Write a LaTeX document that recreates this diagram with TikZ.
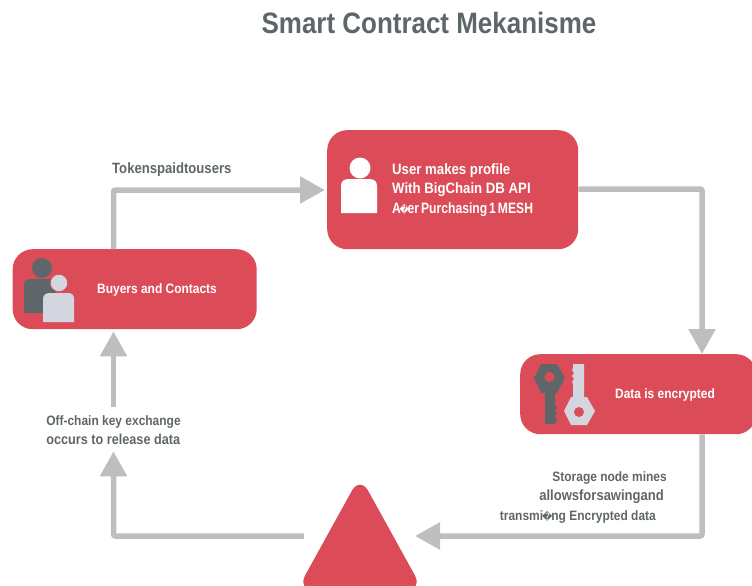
\documentclass[tikz,border=0pt]{standalone}
\usepackage{fontspec}
\setmainfont{Liberation Sans}
\newfontfamily\condbold[FakeStretch=0.88]{Liberation Sans Bold}
\newfontfamily\repl{DejaVu Sans}
\usetikzlibrary{arrows.meta,calc}
\definecolor{boxred}{HTML}{DC4C58}
\definecolor{txtgray}{HTML}{5F666A}
\definecolor{arrowgray}{HTML}{BDBEC0}
\definecolor{iconlight}{HTML}{D3D6DE}
\newcommand{\rp}{{\repl\fontsize{10}{10}\selectfont\char"FFFD}}
\tikzset{
  redbox/.style={fill=boxred,draw=none,rounded corners=20pt,inner sep=0pt,minimum height=80pt},
  boxtext/.style={text=white,font=\condbold\fontsize{13.6}{19.5}\selectfont,inner sep=0pt,align=left},
  usertextstyle/.style={boxtext,font=\condbold\fontsize{15}{19.5}\selectfont},
  graytext/.style={text=txtgray,font=\condbold\fontsize{13.6}{19.3}\selectfont,inner sep=0pt},
  flow/.style={draw=arrowgray,line width=5.5pt,rounded corners=2pt},
  flowtip/.style={flow,-{Triangle[length=25pt,width=26pt]}},
  dark/.style={fill=txtgray,draw=none},
  light/.style={fill=iconlight,draw=none},
  white icon/.style={fill=white,draw=none}
}
\begin{document}
\begin{tikzpicture}[x=1pt,y=-1pt]
\useasboundingbox (0,0) rectangle (752,586);
\clip (0,0) rectangle (752,586);
% boxes
\node[redbox,minimum width=251pt,minimum height=119pt,anchor=north west] (user) at (327,130) {};
\node[redbox,minimum width=244pt,anchor=north west] (buyers) at (12.5,249) {};
\node[redbox,minimum width=236pt,anchor=north west] (data) at (520,354) {};
% triangle
\coordinate (triA) at (360,476);
\coordinate (triB) at (423,590);
\coordinate (triC) at (297,590);
\fill[boxred,rounded corners=17pt] (triA) -- (triB) -- (triC) -- cycle;
\coordinate (triRight) at (415,536);
\coordinate (triLeft) at (304,536);
% texts
\node[text=txtgray,font=\condbold\fontsize{29.5}{32}\selectfont,inner sep=0pt] (title) at (429,23) {Smart Contract Mekanisme};
\node[graytext,font=\condbold\fontsize{14.9}{19}\selectfont,anchor=west] (tokens) at (112,170) {Tokenspaidtousers};
\node[usertextstyle,anchor=west] (usertext) at (392,190) {User makes profile\\With BigChain DB API\\\scalebox{0.92}[1]{A\hspace{-1.5pt}\rp\hspace{-1.5pt}er\hspace{-1.5pt} Purchasing\hspace{-1.5pt} 1\hspace{-1.5pt} MESH}};
\node[boxtext,anchor=center] (buyerstext) at (157,289.5) {Buyers and Contacts};
\node[boxtext,anchor=center] (datatext) at (665,394.5) {Data is encrypted};
\node[graytext,align=left,anchor=center] (off) at (113.5,430) {Off-chain key exchange\\{\fontsize{14.4}{19.3}\selectfont occurs to release data}};
\node[graytext,align=right,anchor=north east] (storage) at (667,471.5) {Storage node mines\\{\fontsize{14.8}{19.3}\selectfont allowsforsawingand}\kern3pt\\transmi\hspace{-1pt}\rp\hspace{-1pt}ng Encrypted data\kern11pt};
% connectors
\draw[flowtip] (buyers.north -| off.north) -- (off.north |- 0,190) -- ([xshift=-2pt]user.west |- 0,190);
\draw[flowtip] (user.east |- 0,189) -- (702,189) -- (data.north -| 702,0);
\draw[flowtip] (data.south -| 702,0) -- (702,536) -- (triRight);
\draw[flowtip] (triLeft) -- (off.south |- triLeft) -- ([yshift=-6.5pt]off.south);
\draw[flowtip] ([yshift=8pt]off.north) -- ([yshift=-2pt]buyers.south -| off.north);
% person icon
\fill[white icon] (360,168) circle (10.5);
\fill[white icon] (341,213) -- (341,186) .. controls (341,181) and (344,179) .. (349,179) -- (369,179) .. controls (375,179) and (377,182) .. (377,186) -- (377,213) -- cycle;
% buyers icon
\fill[dark] (42,268) circle (10);
\fill[dark] (24,313) -- (24,285) .. controls (24,281) and (26,279) .. (30,279) -- (56,279) -- (56,313) -- cycle;
\fill[light,draw=boxred,line width=.6pt] (59,283) circle (8.7);
\fill[light] (43,322) -- (43,299) .. controls (43,295) and (46,293) .. (50,293) -- (68,293) .. controls (72,293) and (74,295) .. (74,299) -- (74,322) -- cycle;
% dark key
\fill[dark] (541,364) -- (557,364) -- (565,378) -- (557,393) -- (555,393) -- (555,405) -- (557,407) -- (555,410) -- (557,413) -- (555,416) -- (557,419) -- (555,424) -- (545,424) -- (545,393) -- (541,393) -- (534,378) -- cycle;
\fill[boxred] (549.5,377) circle (5);
% light key
\fill[light] (573,364) -- (584,364) -- (584,397) -- (587,397) -- (595,411) -- (587,425) -- (571,425) -- (564,411) -- (571,397) -- (573,397) -- (573,384) -- (572,382) -- (574,379) -- (572,376) -- (574,373) -- (572,370) -- (573,368) -- cycle;
\fill[boxred] (579,412) circle (5);
\end{tikzpicture}
\end{document}
